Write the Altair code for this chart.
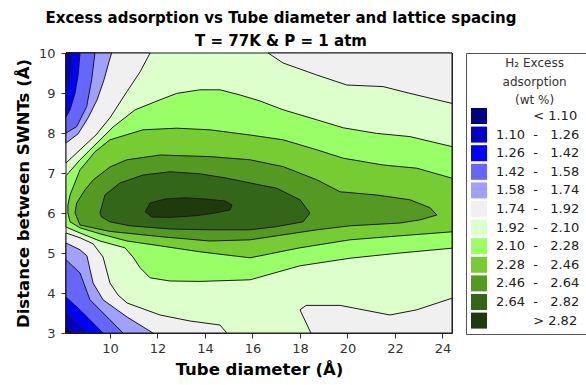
import altair as alt
import pandas as pd

# Axis ranges (tube diameter in Å, inter-tube distance in Å)
X_DOMAIN = [8.15, 24.4]
Y_DOMAIN = [3, 10]
X_TICKS = [10, 12, 14, 16, 18, 20, 22, 24]
Y_TICKS = [3, 4, 5, 6, 7, 8, 9, 10]

# Contour level boundaries (wt %) and their fill colours, lowest first
LEVEL_BOUNDS = [1.10, 1.26, 1.42, 1.58, 1.74, 1.92, 2.10, 2.28, 2.46, 2.64, 2.82]
LEVEL_COLORS = ["#000080", "#0000C8", "#0000FF", "#6666FF", "#A0A0FF", "#F0F0F0",
                "#DDFFCC", "#99FF66", "#77CC33", "#559922", "#336619", "#1F3A0D"]

# Whole plane: the 1.92-2.10 band fills everything not covered below
whole_plane = [(8.15, 3), (8.15, 10), (24.4, 10), (24.4, 3)]

# Regions below a level (tube diameter, distance)
below_192_top_left = [(8.15, 10), (11.69, 10), (11.27, 9.53), (10.71, 9.03), (10.0, 8.38),
                      (9.41, 7.95), (8.74, 7.58), (8.15, 7.25)]
below_192_bottom_left = [(8.15, 3), (8.15, 5.5), (8.74, 5.38), (9.29, 5.23), (9.71, 4.9),
                         (10.0, 4.25), (10.34, 3.95), (10.72, 3.75), (12.11, 3.45),
                         (13.37, 3.3), (14.63, 3.2), (14.92, 3.0)]
below_192_top_right = [(16.66, 10), (17.29, 9.75), (18.71, 9.45), (19.97, 9.2), (21.5, 9.16),
                       (22.63, 8.99), (24.4, 8.74), (24.4, 10)]
below_192_bottom_right = [(18.0, 3.58), (18.26, 3.69), (19.69, 3.69), (21.79, 3.45),
                          (22.92, 3.58), (24.4, 3.87), (24.4, 3.0), (18.46, 3.0)]
below_174_top_left = [(8.15, 10), (10.07, 10), (9.96, 9.78), (9.75, 9.33), (9.46, 8.83),
                      (9.08, 8.38), (8.66, 7.98), (8.15, 7.75)]
below_174_bottom_left = [(8.15, 3), (8.15, 5.25), (8.74, 5.08), (9.03, 4.93), (9.29, 4.25),
                         (9.71, 3.83), (10.72, 3.4), (11.81, 3.0)]
below_158_top_left = [(8.15, 10), (9.37, 10), (9.23, 9.33), (9.02, 8.66), (8.6, 8.16), (8.15, 8.0)]
below_158_bottom_left = [(8.15, 3), (8.15, 4.83), (8.74, 4.5), (9.16, 3.83), (10.0, 3.33), (10.55, 3.0)]
below_142_top_left = [(8.15, 10), (8.74, 10), (8.67, 9.49), (8.53, 8.99), (8.32, 8.58), (8.15, 8.4)]
below_142_bottom_left = [(8.15, 3), (8.15, 3.9), (8.74, 3.58), (9.71, 3.0)]
below_126_top_left = [(8.15, 10), (8.39, 10), (8.32, 9.49), (8.15, 9.16)]
below_126_bottom_left = [(8.15, 3), (8.15, 3.5), (9.03, 3.0)]
below_110_bottom_left = [(8.15, 3), (8.15, 3.15), (8.44, 3.0)]

# Regions above a level
above_210 = [(8.15, 6.93), (8.74, 7.33), (9.37, 7.7), (10.13, 8.15), (11.06, 8.58), (12.11, 8.83),
             (12.81, 8.99), (13.79, 9.08), (14.63, 9.08), (15.48, 8.95), (16.32, 8.8),
             (17.29, 8.58), (18.71, 8.33), (19.82, 8.13), (21.23, 7.99), (22.63, 7.91),
             (24.4, 7.66), (24.4, 5.12), (22.21, 5.0), (20.11, 4.87), (18.0, 4.68),
             (15.9, 4.33), (13.79, 4.29), (12.53, 4.3), (11.69, 4.38), (11.27, 4.63),
             (10.97, 4.9), (10.63, 5.13), (9.58, 5.3), (8.74, 5.5), (8.15, 5.65)]
above_228 = [(8.23, 6.2), (8.32, 6.45), (8.74, 7.08), (9.37, 7.53), (10.0, 7.83), (11.39, 8.08),
             (12.81, 8.12), (14.21, 8.08), (15.9, 7.95), (17.29, 7.83), (18.71, 7.58),
             (19.82, 7.37), (21.5, 7.2), (22.92, 7.12), (24.4, 6.87), (24.4, 5.53),
             (22.21, 5.43), (20.11, 5.33), (18.0, 5.13), (15.9, 4.88), (13.79, 5.03),
             (12.11, 5.18), (10.72, 5.3), (9.58, 5.48), (8.74, 5.63), (8.32, 5.78), (8.23, 6.0)]
above_246 = [(8.53, 6.0), (8.6, 6.25), (8.95, 6.58), (9.3, 6.83), (10.0, 7.15), (10.71, 7.33),
             (12.11, 7.45), (14.21, 7.41), (15.9, 7.33), (17.29, 7.16), (18.71, 6.83),
             (19.69, 6.53), (21.23, 6.45), (22.63, 6.33), (23.48, 6.13), (23.76, 5.95),
             (23.06, 5.83), (22.21, 5.75), (20.11, 5.68), (18.71, 5.58), (15.9, 5.33),
             (14.21, 5.3), (12.11, 5.41), (10.0, 5.54), (8.74, 5.7)]
above_264 = [(9.58, 6.0), (9.79, 6.45), (10.42, 6.75), (11.39, 6.95), (12.53, 7.03), (13.79, 6.98),
             (14.92, 6.87), (16.32, 6.7), (17.02, 6.62), (18.0, 6.33), (18.42, 6.0),
             (18.13, 5.78), (17.02, 5.66), (15.9, 5.58), (14.21, 5.58), (12.53, 5.6),
             (10.84, 5.68), (10.0, 5.78), (9.65, 5.9)]
above_282 = [(11.48, 6.03), (11.69, 6.25), (12.32, 6.35), (13.16, 6.38), (14.0, 6.35),
             (14.84, 6.3), (15.14, 6.2), (15.06, 6.08), (14.42, 6.0), (13.58, 5.93),
             (12.53, 5.89), (11.77, 5.9)]

# Painting order: the 1.92-2.10 band first, then lower bands, then higher bands
PAINT_ORDER = [
    (whole_plane, 6),
    (below_192_top_left, 5), (below_192_bottom_left, 5), (below_192_top_right, 5),
    (below_192_bottom_right, 5),
    (below_174_top_left, 4), (below_174_bottom_left, 4),
    (below_158_top_left, 3), (below_158_bottom_left, 3),
    (below_142_top_left, 2), (below_142_bottom_left, 2),
    (below_126_top_left, 1), (below_126_bottom_left, 1),
    (below_110_bottom_left, 0),
    (above_210, 7), (above_228, 8), (above_246, 9), (above_264, 10), (above_282, 11),
]

# Non-breaking spaces keep the legend columns aligned; the zero-width space
# at either end stops the renderer from trimming them.
NB = "\u00a0"
ZW = "\u200b"
FONT = "DejaVu Sans"


def level_labels(bounds):
    labels = [NB * 9 + "<" + NB + f"{bounds[0]:.2f}"]
    for lo, hi in zip(bounds[:-1], bounds[1:]):
        labels.append(f"{lo:.2f}{NB * 2}-{NB * 3}{hi:.2f}")
    labels.append(NB * 9 + ">" + NB + f"{bounds[-1]:.2f}")
    return [ZW + lab + NB + ZW for lab in labels]


LABELS = level_labels(LEVEL_BOUNDS)
LEGEND_TITLE = [ZW + NB * 4 + line for line in ["H₂ Excess", "adsorption", "(wt %)"]]

x_scale = alt.Scale(domain=X_DOMAIN, nice=False, zero=False)
y_scale = alt.Scale(domain=Y_DOMAIN, nice=False, zero=False)

x_axis = alt.Axis(values=X_TICKS, title="Tube diameter (Å)", grid=False,
                  titleFont=FONT, titleFontSize=16.5, titleFontWeight="bold", titleColor="black",
                  titlePadding=6, labelFont=FONT, labelFontSize=13, labelColor="#333",
                  labelPadding=4, tickSize=5, tickColor="#333", domainColor="#333")
y_axis = alt.Axis(values=Y_TICKS, title="Distance between SWNTs (Å)", grid=False,
                  titleFont=FONT, titleFontSize=16.5, titleFontWeight="bold", titleColor="black",
                  titlePadding=7, labelFont=FONT, labelFontSize=13, labelColor="#333",
                  labelPadding=6, tickSize=5, tickColor="#333", domainColor="#333")


def region_layer(points, color):
    pts = list(points) + [points[0]]
    df = pd.DataFrame({
        "diameter": [p[0] for p in pts],
        "distance": [p[1] for p in pts],
        "i": list(range(len(pts))),
    })
    return alt.Chart(df).mark_line(
        fill=color, stroke="#1a1a1a", strokeWidth=1, strokeJoin="round"
    ).encode(
        x=alt.X("diameter:Q", scale=x_scale, axis=x_axis),
        y=alt.Y("distance:Q", scale=y_scale, axis=y_axis),
        order=alt.Order("i:Q"),
    )


layers = [region_layer(pts, LEVEL_COLORS[ci]) for pts, ci in PAINT_ORDER]

legend_df = pd.DataFrame({"level": LABELS})
legend_layer = alt.Chart(legend_df).mark_square(opacity=0).encode(
    color=alt.Color(
        "level:N",
        scale=alt.Scale(domain=LABELS, range=LEVEL_COLORS),
        legend=alt.Legend(
            title=LEGEND_TITLE,
            orient="none", legendX=400, legendY=0, direction="vertical",
            strokeColor="#555", fillColor="white", padding=5,
            titleAlign="center", titleAnchor="middle", titleFont=FONT, titleFontSize=12,
            titleFontWeight="normal", titleColor="#333", titleLineHeight=18.5,
            titlePadding=1, titleLimit=300,
            labelFont=FONT, labelFontSize=13, labelColor="#222", labelOffset=9, labelLimit=400,
            symbolType="square", symbolSize=256, symbolStrokeWidth=0, symbolOpacity=1,
            rowPadding=2.6,
        ),
    )
)

chart = alt.layer(*layers, legend_layer).properties(
    width=386,
    height=280,
    padding={"left": 66, "top": 53, "right": 134, "bottom": 52},
    autosize=alt.AutoSizeParams(type="none"),
    title=alt.TitleParams(
        text=["Excess adsorption vs Tube diameter and lattice spacing", "T = 77K & P = 1 atm"],
        font=FONT, fontSize=15, fontWeight="bold", color="black",
        anchor="middle", dx=22, offset=-2, lineHeight=23,
    ),
).configure_view(
    stroke="#333", strokeWidth=1
)

chart.save("out.html", embed_options={"renderer": "svg", "actions": False})
